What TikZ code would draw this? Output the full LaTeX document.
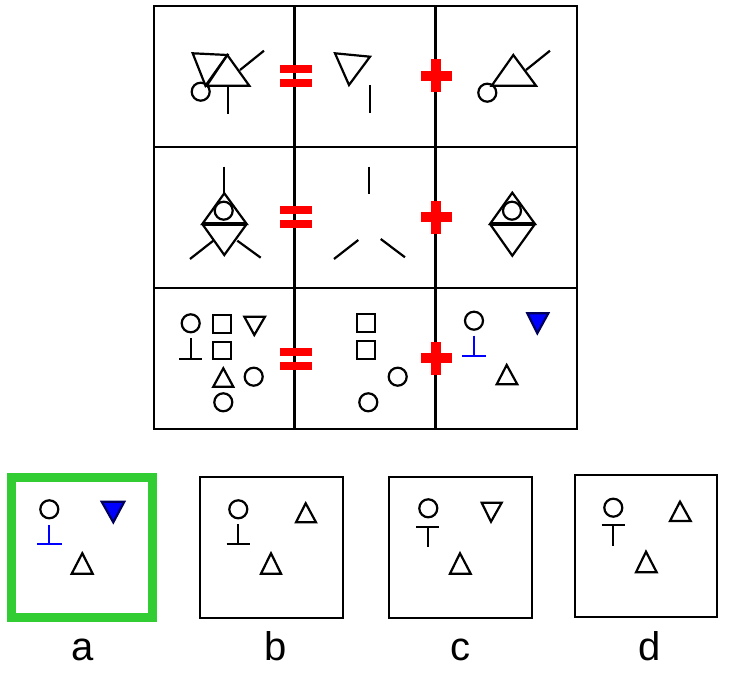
\documentclass[tikz,border=0pt]{standalone}
\usepackage{fontspec}
\setmainfont{Liberation Sans}
\definecolor{okgreen}{RGB}{50,205,50}
\definecolor{navy}{RGB}{0,0,90}
\newcommand\EqSign[2]{\begin{scope}[shift={(#1,#2)}]\fill[red] (-16,-11) rectangle (16,-3); \fill[red] (-16,3) rectangle (16,11);\end{scope}}
\newcommand\PlusSign[2]{\begin{scope}[shift={(#1,#2)}]\fill[red] (-15.5,-5) rectangle (15.5,5); \fill[red] (-5,-16.5) rectangle (5,16.5);\end{scope}}
\begin{document}
\begin{tikzpicture}[x=0.75pt,y=-0.75pt,
  grid/.style={line width=1.7pt},
  shp/.style={line width=1.65pt, line join=miter},
  lbl/.style={anchor=base, font=\fontsize{30}{36}\selectfont}]
\useasboundingbox (0,0) rectangle (729,691);
% grid
\draw[grid] (154,6) rectangle (577,429);
\draw[grid] (294.5,6) -- (294.5,429);
\draw[grid] (435.5,6) -- (435.5,429);
\draw[grid] (154,147) -- (577,147);
\draw[grid] (154,288) -- (577,288);
% row 1
\begin{scope}[shp]
\draw (192.7,53.3) -- (227.3,55) -- (205.5,85.7) -- cycle;
\draw (227.3,55) -- (249.3,85.7) -- (206.7,85.7) -- cycle;
\draw (240,70) -- (264,50.7);
\draw (200.7,91.7) circle (9);
\draw (227.7,87.3) -- (227.7,114);
\draw (335,53.3) -- (370,56.7) -- (349,85) -- cycle;
\draw (370,85) -- (370,113.3);
\draw (513.3,55) -- (536,85.7) -- (491.7,85.7) -- cycle;
\draw (526,70) -- (550,50.7);
\draw (487.3,92.7) circle (9);
% row 2
\draw (224.3,166.7) -- (224.3,193.3);
\draw (224.3,193.3) -- (246.7,224) -- (202.3,224) -- cycle;
\draw (202.3,224) -- (224.3,255) -- (246.7,224);
\draw[line width=2.4pt] (203,224) -- (246,224);
\draw (223.7,210.7) circle (9);
\draw (213.3,240.7) -- (190,259);
\draw (237.3,240.7) -- (260.7,257.7);
\draw (369,166.7) -- (369,194.3);
\draw (358.3,240) -- (334,259);
\draw (380.7,239) -- (405,257.3);
\draw (512.3,192.7) -- (535,224) -- (490,224) -- cycle;
\draw (490,224) -- (512.3,255.7) -- (535,224);
\draw[line width=2.4pt] (491,224) -- (534,224);
\draw (512,210.7) circle (9);
% row 3
\draw (190.7,323.3) circle (9);
\draw (190.7,338.3) -- (190.7,359) (179,359) -- (201.7,359);
\draw (212.7,315) rectangle (231,332.7);
\draw (212.7,341.7) rectangle (231,359.3);
\draw (244.3,316.7) -- (265,316.7) -- (254.3,335) -- cycle;
\draw (223.3,368.3) -- (233.3,386.7) -- (213.3,386.7) -- cycle;
\draw (253.7,376.7) circle (9);
\draw (223.3,402.3) circle (9);
\draw (356.7,314.3) rectangle (375,332.3);
\draw (356.7,341) rectangle (375,359.3);
\draw (397.7,376.7) circle (9);
\draw (368.3,402.3) circle (9);
\draw (474,320.7) circle (9);
\draw[blue] (474,335.7) -- (474,355.7) (462.3,355.7) -- (485.7,355.7);
\draw[fill=blue, draw=navy] (527.3,313.3) -- (548.3,313.3) -- (537.3,333.3) -- cycle;
\draw (506.7,365) -- (517.3,384.3) -- (496.7,384.3) -- cycle;
\end{scope}
% signs
\EqSign{296}{76.5}
\EqSign{296}{217.5}
\EqSign{296}{359}
\PlusSign{436}{76}
\PlusSign{436}{217.5}
\PlusSign{436}{358.5}
% answers
\draw[okgreen, line width=6.2pt] (11.5,477.5) rectangle (152.5,617.5);
\draw[grid] (200,476.7) rectangle (342.7,618.3);
\draw[grid] (389,476.7) rectangle (531.7,618.3);
\draw[grid] (575,475) rectangle (716.7,616.7);
\begin{scope}[shp]
% a
\draw (49.3,509.3) circle (9);
\draw[blue] (49.3,525) -- (49.3,544.3) (37.3,544.3) -- (61.7,544.3);
\draw[fill=blue, draw=navy] (101.7,501.7) -- (124.3,501.7) -- (113.3,522.3) -- cycle;
\draw (82.3,553.3) -- (92.7,573.7) -- (71.7,573.7) -- cycle;
% b
\draw (238.3,509.3) circle (9);
\draw (238.3,524.3) -- (238.3,544.3) (226.7,544.3) -- (250,544.3);
\draw (305.7,503.3) -- (316,522.3) -- (296,522.3) -- cycle;
\draw (271,553.3) -- (281,573.7) -- (261,573.7) -- cycle;
% c
\draw (428.3,508.3) circle (9);
\draw (416,526.7) -- (439.3,526.7) (428.3,526.7) -- (428.3,546.7);
\draw (481.7,502.7) -- (501.7,502.7) -- (491,521.7) -- cycle;
\draw (460,553.3) -- (470.7,573.7) -- (450,573.7) -- cycle;
% d
\draw (613.3,507.7) circle (9);
\draw (601.7,525) -- (625,525) (613.3,525) -- (613.3,545.7);
\draw (680,501.7) -- (690.7,521) -- (670,521) -- cycle;
\draw (646,551.7) -- (656.7,572.3) -- (636,572.3) -- cycle;
\end{scope}
\node[lbl] (la) at (82.7,661) {a};
\node[lbl] (lb) at (276,661) {b};
\node[lbl] (lc) at (460,661) {c};
\node[lbl] (ld) at (650,661) {d};
\end{tikzpicture}
\end{document}
